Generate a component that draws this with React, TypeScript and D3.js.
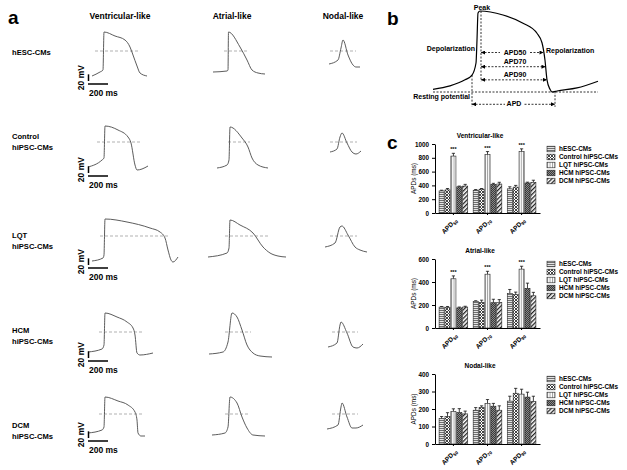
import React, { useEffect, useRef } from 'react';
import * as d3 from 'd3';

type Pt = [number, number];

const W = 627;
const H = 470;
const FONT = 'Liberation Sans, Arial, Helvetica, sans-serif';

// ---------- panel a : representative action potentials [time ms, Vm mV] ----------
const cellTypes = ['Ventricular-like', 'Atrial-like', 'Nodal-like'];
const lineLabels = [['hESC-CMs'], ['Control', 'hiPSC-CMs'], ['LQT', 'hiPSC-CMs'], ['HCM', 'hiPSC-CMs'], ['DCM', 'hiPSC-CMs']];

const hescVent: Pt[] = [[0, -75], [80, -63], [110, -57], [120, 57], [230, 45], [330, 33], [380, 12], [410, -12], [450, -45], [480, -66], [550, -75]];
const hescAtrial: Pt[] = [[0, -63], [140, -60], [150, -57], [155, 57], [270, 12], [340, -27], [390, -57], [450, -66], [520, -69]];
const hescNodal: Pt[] = [[0, -39], [90, -27], [120, 9], [140, 33], [190, -12], [240, -42], [270, -48], [310, -48]];

const ctrlVent: Pt[] = [[0, -75], [140, -54], [160, -48], [170, 48], [300, 36], [400, 15], [430, -3], [470, -69], [490, -84], [540, -81], [600, -72]];
const ctrlAtrial: Pt[] = [[0, -78], [100, -69], [120, -54], [130, 45], [250, 12], [310, -15], [350, -48], [410, -69], [510, -78]];
const ctrlNodal: Pt[] = [[0, -30], [70, -21], [100, 15], [120, 27], [170, -3], [220, -30], [260, -36], [310, -27]];

const lqtVent: Pt[] = [[0, -75], [110, -66], [120, -57], [130, 51], [350, 42], [580, 24], [680, 12], [730, -6], [760, -42], [790, -72], [810, -78], [860, -63]];
const lqtAtrial: Pt[] = [[0, -63], [190, -51], [210, -36], [220, 48], [320, 33], [450, 9], [550, -33], [620, -51], [700, -60], [780, -63]];
const lqtNodal: Pt[] = [[0, -33], [100, -21], [150, 27], [170, 30], [230, 3], [300, -33], [350, -42], [420, -48]];

const hcmVent: Pt[] = [[0, -60], [140, -51], [160, -39], [170, 57], [290, 45], [390, 30], [450, 12], [470, -9], [490, -63], [520, -69], [650, -63]];
const hcmAtrial: Pt[] = [[0, -66], [140, -60], [190, -30], [230, 57], [280, 45], [330, 6], [380, -39], [440, -63], [510, -72], [630, -75]];
const hcmNodal: Pt[] = [[0, -45], [90, -33], [120, 21], [130, 30], [190, -3], [250, -45], [290, -48], [350, -36]];

const dcmVent: Pt[] = [[0, -57], [140, -48], [160, -39], [170, 51], [300, 39], [400, 27], [470, 6], [490, -18], [500, -57], [530, -66], [570, -66]];
const dcmAtrial: Pt[] = [[0, -63], [130, -57], [160, -39], [180, 51], [250, 33], [300, -9], [350, -42], [410, -63], [530, -66]];
const dcmNodal: Pt[] = [[0, -45], [110, -33], [140, 21], [150, 33], [200, -9], [250, -42], [290, -42], [360, -33]];

const traces = [
  [hescVent, hescAtrial, hescNodal],
  [ctrlVent, ctrlAtrial, ctrlNodal],
  [lqtVent, lqtAtrial, lqtNodal],
  [hcmVent, hcmAtrial, hcmNodal],
  [dcmVent, dcmAtrial, dcmNodal],
];

// 0 mV reference segment of each sweep (ms)
const zeroSpans = [
  [[30, 470], [110, 360], [10, 270]],
  [[90, 540], [110, 330], [0, 270]],
  [[80, 760], [170, 600], [50, 320]],
  [[110, 550], [160, 420], [40, 300]],
  [[110, 550], [130, 380], [50, 310]],
];
// lower end of the 20 mV scale bar in each row (mV)
const scaleBarFoot = [-90, -93, -87, -78, -72];

// ---------- panel b : schematic AP ----------
const schemeTrace: Pt[] = [[0, -76], [34, -71], [64, -62], [78, -55], [86, -37], [88, -3], [90, 37], [94, 40], [140, 34], [180, 22], [208, 7], [218, -7], [224, -33], [228, -62], [234, -76], [238, -80], [248, -78.5], [288, -74], [330, -64]];
const apdNames = ['APD50', 'APD70', 'APD90'];
const apdLevels = [-21.5, -42.5, -62];
const apdEnds = [221, 225, 228];

// ---------- panel c : APD bar charts ----------
const groups = ['50', '70', '90'];
const seriesNames = ['hESC-CMs', 'Control hiPSC-CMs', 'LQT hiPSC-CMs', 'HCM hiPSC-CMs', 'DCM hiPSC-CMs'];

const ventMean = [[320, 335, 825, 380, 390], [330, 345, 845, 415, 420], [350, 375, 890, 435, 445]];
const ventSem = [[10, 20, 40, 10, 25], [10, 10, 45, 15, 25], [30, 25, 40, 12, 30]];
const atrialMean = [[182, 177, 428, 175, 182], [232, 222, 468, 220, 222], [300, 292, 512, 345, 280]];
const atrialSem = [[5, 10, 25, 7, 7], [5, 20, 25, 30, 25], [35, 20, 25, 45, 30]];
const nodalMean = [[145, 157, 186, 180, 172], [193, 208, 232, 216, 193], [245, 290, 285, 268, 243]];
const nodalSem = [[12, 22, 15, 22, 16], [15, 10, 22, 16, 25], [28, 28, 28, 28, 30]];

const App: React.FC = () => {
  const svgRef = useRef<SVGSVGElement>(null);

  useEffect(() => {
    if (!svgRef.current) return;
    const svg = d3.select(svgRef.current);
    svg.selectAll('*').remove();

    const defs = svg.append('defs');
    // fill patterns of the five lines
    const pat = (id: string, w: number, h: number, bg: string, rot?: number) => {
      const p = defs.append('pattern').attr('id', id).attr('patternUnits', 'userSpaceOnUse')
        .attr('width', w).attr('height', h);
      if (rot) p.attr('patternTransform', `rotate(${rot})`);
      p.append('rect').attr('width', w).attr('height', h).attr('fill', bg);
      return p;
    };
    pat('p0', 4, 2, '#e4e4e4').append('rect').attr('width', 4).attr('height', 1).attr('fill', '#707070');
    pat('p1', 3, 3, '#ffffff').append('path').attr('d', 'M0,0L3,3M3,0L0,3').attr('stroke', '#333').attr('stroke-width', 0.9);
    pat('p2', 2.4, 2, '#ffffff').append('rect').attr('width', 0.9).attr('height', 2).attr('fill', '#9a9a9a');
    const p3 = pat('p3', 2, 2, '#3a3a3a');
    p3.append('rect').attr('width', 1).attr('height', 1).attr('fill', '#8a8a8a');
    p3.append('rect').attr('x', 1).attr('y', 1).attr('width', 1).attr('height', 1).attr('fill', '#8a8a8a');
    pat('p4', 3, 3, '#ffffff', 45).append('rect').attr('width', 1.3).attr('height', 3).attr('fill', '#222');

    defs.append('marker').attr('id', 'arr').attr('viewBox', '0 0 6 6').attr('refX', 6).attr('refY', 3)
      .attr('markerWidth', 5).attr('markerHeight', 4).attr('markerUnits', 'userSpaceOnUse')
      .attr('orient', 'auto-start-reverse')
      .append('path').attr('d', 'M0,0L6,3L0,6Z').attr('fill', '#000');

    const bold = (sel: d3.Selection<SVGTextElement, unknown, null, undefined>, size: number) =>
      sel.attr('font-size', size).attr('font-weight', 'bold').attr('fill', '#000');

    // ================= panel a =================
    const rowZeroY = [51, 142, 236, 332, 414];
    const sweepX = [[92, 213, 329], [88, 217, 330], [92, 208, 325], [88, 209, 328], [88, 212, 327]];
    const labelY = [55, 139, 238, 333, 428];
    const colCenter = [120, 232, 343];

    const pa = svg.append('g');
    bold(pa.append('text').attr('x', 8).attr('y', 24), 19).text('a');
    cellTypes.forEach((t, i) => {
      bold(pa.append('text').attr('x', colCenter[i]).attr('y', 19).attr('text-anchor', 'middle'), 8.5).text(t);
    });

    traces.forEach((row, r) => {
      const y0 = rowZeroY[r];
      const lbl = bold(pa.append('text').attr('x', 12).attr('y', labelY[r]), 7.6);
      lineLabels[r].forEach((s, k) => lbl.append('tspan').attr('x', 12).attr('dy', k ? 11 : 0).text(s));

      row.forEach((tr, c) => {
        const x = d3.scaleLinear().domain([0, 1000]).range([sweepX[r][c], sweepX[r][c] + 100]);
        const y = d3.scaleLinear().domain([0, 60]).range([y0, y0 - 20]);
        const span = zeroSpans[r][c];
        pa.append('line')
          .attr('x1', x(span[0])).attr('x2', x(span[1]))
          .attr('y1', y(0)).attr('y2', y(0))
          .attr('stroke', '#a8a8a8').attr('stroke-width', 0.9).attr('stroke-dasharray', '3,2');
        pa.append('path')
          .attr('d', d3.line<Pt>().curve(d3.curveMonotoneX).x(d => x(d[0])).y(d => y(d[1]))(tr))
          .attr('fill', 'none').attr('stroke', '#4a4a4a').attr('stroke-width', 0.9);
      });

      // scale bars: 20 mV / 200 ms
      const sx = d3.scaleLinear().domain([0, 1000]).range([88, 188]);
      const sy = d3.scaleLinear().domain([0, 60]).range([y0, y0 - 20]);
      const foot = scaleBarFoot[r];
      pa.append('line').attr('x1', 88.5).attr('x2', 88.5).attr('y1', sy(foot)).attr('y2', sy(foot + 20))
        .attr('stroke', '#000').attr('stroke-width', 1.5);
      pa.append('line').attr('x1', sx(0)).attr('x2', sx(200)).attr('y1', sy(foot) + 3).attr('y2', sy(foot) + 3)
        .attr('stroke', '#000').attr('stroke-width', 1.5);
      bold(pa.append('text').attr('text-anchor', 'middle')
        .attr('transform', `translate(84,${(sy(foot) + sy(foot + 20)) / 2}) rotate(-90)`), 8.5).text('20 mV');
      bold(pa.append('text').attr('x', 89).attr('y', sy(foot) + 15), 8.5).text('200 ms');
    });

    // ================= panel b =================
    const pb = svg.append('g');
    const bx = d3.scaleLinear().domain([0, 330]).range([433, 598]);
    const by = d3.scaleLinear().domain([-80, 40]).range([92, 11]);
    bold(pb.append('text').attr('x', 387).attr('y', 25), 19).text('b');

    const dash = (x1: number, y1: number, x2: number, y2: number, arrows = false) => {
      const l = pb.append('line').attr('x1', x1).attr('y1', y1).attr('x2', x2).attr('y2', y2)
        .attr('stroke', '#000').attr('stroke-width', 0.8).attr('stroke-dasharray', '2,1.5');
      if (arrows) l.attr('marker-start', 'url(#arr)').attr('marker-end', 'url(#arr)');
    };
    // resting potential and verticals
    dash(bx(0), by(-80), bx(330), by(-80));
    dash(bx(96), by(40), bx(96), by(-64));
    dash(bx(78), by(-55), bx(78), by(-102));
    dash(bx(244), by(-79), bx(244), by(-102));

    pb.append('path')
      .attr('d', d3.line<Pt>().curve(d3.curveMonotoneX).x(d => bx(d[0])).y(d => by(d[1]))(schemeTrace))
      .attr('fill', 'none').attr('stroke', '#000').attr('stroke-width', 1.2);

    apdNames.forEach((name, i) => {
      const yy = by(apdLevels[i]);
      dash(bx(96), yy, bx(apdEnds[i]), yy, true);
      if (i === 0) {
        pb.append('rect').attr('x', 500).attr('y', yy - 5).attr('width', 29).attr('height', 7).attr('fill', '#fff');
        bold(pb.append('text').attr('x', 515).attr('y', yy + 2).attr('text-anchor', 'middle'), 7).text(name);
      } else {
        bold(pb.append('text').attr('x', 515).attr('y', yy - 2.5).attr('text-anchor', 'middle'), 7).text(name);
      }
    });
    const apdY = by(-98.2);
    dash(bx(78), apdY, bx(244), apdY, true);
    pb.append('rect').attr('x', 505).attr('y', apdY - 5).attr('width', 19).attr('height', 7).attr('fill', '#fff');
    bold(pb.append('text').attr('x', 514).attr('y', apdY + 2).attr('text-anchor', 'middle'), 7).text('APD');

    bold(pb.append('text').attr('x', bx(98)).attr('y', 9.5).attr('text-anchor', 'middle'), 7).text('Peak');
    bold(pb.append('text').attr('x', 475).attr('y', 51).attr('text-anchor', 'end'), 7).text('Depolarization');
    bold(pb.append('text').attr('x', 546).attr('y', 52.5), 7).text('Repolarization');
    bold(pb.append('text').attr('x', 470).attr('y', 98.5).attr('text-anchor', 'end'), 7).text('Resting potential');

    // ================= panel c =================
    const pc = svg.append('g');
    bold(pc.append('text').attr('x', 387).attr('y', 149), 19).text('c');

    const charts = [
      { title: 'Ventricular-like', mean: ventMean, sem: ventSem, ticks: [0, 200, 400, 600, 800, 1000], top: 144, bottom: 213, stars: true },
      { title: 'Atrial-like', mean: atrialMean, sem: atrialSem, ticks: [0, 200, 400, 600], top: 259, bottom: 328, stars: true },
      { title: 'Nodal-like', mean: nodalMean, sem: nodalSem, ticks: [0, 100, 200, 300, 400], top: 374, bottom: 444, stars: false },
    ];
    const left = 435;
    const right = 540;

    charts.forEach(ch => {
      const g = pc.append('g');
      const x0 = d3.scaleBand<string>().domain(groups).range([left, right]).paddingInner(0.16).paddingOuter(0.12);
      const x1 = d3.scaleBand<string>().domain(seriesNames).range([0, x0.bandwidth()]).paddingInner(0.14);
      const y = d3.scaleLinear().domain([0, ch.ticks[ch.ticks.length - 1]]).range([ch.bottom, ch.top]);

      groups.forEach((grp, gi) => {
        seriesNames.forEach((s, si) => {
          const m = ch.mean[gi][si];
          const e = ch.sem[gi][si];
          const bx0 = (x0(grp) ?? 0) + (x1(s) ?? 0);
          const cx = bx0 + x1.bandwidth() / 2;
          g.append('line').attr('x1', cx).attr('x2', cx).attr('y1', y(m)).attr('y2', y(m + e))
            .attr('stroke', '#111').attr('stroke-width', 0.8);
          g.append('line').attr('x1', cx - 1.6).attr('x2', cx + 1.6).attr('y1', y(m + e)).attr('y2', y(m + e))
            .attr('stroke', '#111').attr('stroke-width', 0.8);
          g.append('rect').attr('x', bx0).attr('y', y(m)).attr('width', x1.bandwidth()).attr('height', y(0) - y(m))
            .attr('fill', `url(#p${si})`).attr('stroke', '#222').attr('stroke-width', 0.6);
          if (ch.stars && s === 'LQT hiPSC-CMs') {
            bold(g.append('text').attr('x', cx).attr('y', y(m + e) - 2).attr('text-anchor', 'middle'), 5.5).text('***');
          }
        });
      });

      const ya = g.append('g').attr('transform', `translate(${left},0)`)
        .call(d3.axisLeft(y).tickValues(ch.ticks).tickSize(3).tickSizeOuter(0).tickFormat(d3.format('d')));
      ya.attr('font-size', 6.3).attr('font-family', FONT).attr('font-weight', 'bold');
      ya.selectAll('text').attr('fill', '#000');
      ya.select('.domain').attr('stroke-width', 1);

      const xa = g.append('g').attr('transform', `translate(0,${ch.bottom})`)
        .call(d3.axisBottom(x0).tickSize(2).tickSizeOuter(0).tickFormat(() => ''));
      xa.select('.domain').attr('stroke-width', 1);

      groups.forEach(grp => {
        const cx = (x0(grp) ?? 0) + x0.bandwidth() / 2;
        const t = bold(g.append('text').attr('text-anchor', 'end')
          .attr('transform', `translate(${cx + 4},${ch.bottom + 8}) rotate(-45)`), 6.5);
        t.append('tspan').text('APD');
        t.append('tspan').attr('font-size', 4.5).attr('dy', 1.5).text(grp);
      });

      bold(g.append('text').attr('x', 480).attr('y', ch.top - 6).attr('text-anchor', 'middle'), 6.5).text(ch.title);
      g.append('text').attr('transform', `translate(416,${(ch.top + ch.bottom) / 2}) rotate(-90)`)
        .attr('text-anchor', 'middle').attr('font-size', 6.4).attr('fill', '#000').text('APDs (ms)');

      seriesNames.forEach((s, si) => {
        const cy = ch.top + 5 + si * 8;
        g.append('rect').attr('x', 547).attr('y', cy - 2.8).attr('width', 8).attr('height', 5.6)
          .attr('fill', `url(#p${si})`).attr('stroke', '#222').attr('stroke-width', 0.6);
        bold(g.append('text').attr('x', 559).attr('y', cy + 2.3), 6.4).text(s);
      });
    });
  }, []);

  return (
    <svg
      ref={svgRef}
      width={W}
      height={H}
      fontFamily={FONT}
      style={{ position: 'absolute', left: 0, top: 0, background: '#fff' }}
    />
  );
};

export default App;
